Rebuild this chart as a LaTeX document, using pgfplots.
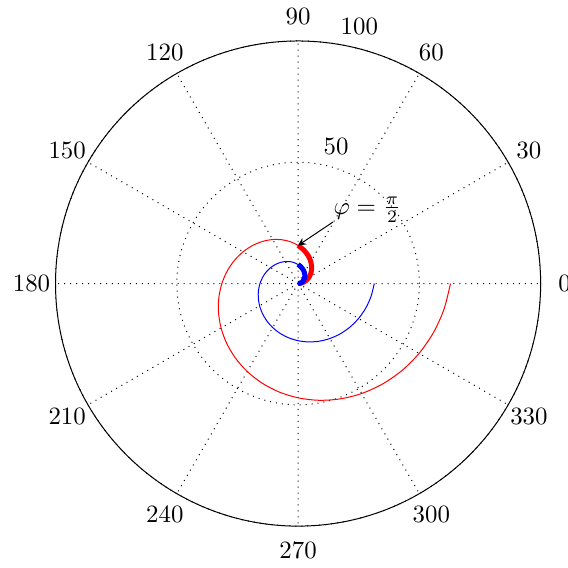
\documentclass[border=0pt]{standalone}
\usepackage{pgfplots}
\pgfplotsset{compat=1.18}
\usepgfplotslibrary{polar}
\pgfplotstableread{
t r
0 0
10 1.745
20 3.491
30 5.236
40 6.981
50 8.727
60 10.472
70 12.217
80 13.963
90 15.708
100 17.453
110 19.199
120 20.944
130 22.689
140 24.435
150 26.180
160 27.925
170 29.671
180 31.416
190 33.161
200 34.907
210 36.652
220 38.397
230 40.143
240 41.888
250 43.633
260 45.379
270 47.124
280 48.869
290 50.615
300 52.360
310 54.105
320 55.851
330 57.596
340 59.341
350 61.087
360 62.832
}\red
\pgfplotstableread{
t r
0 0
10 0.873
20 1.745
30 2.618
40 3.491
50 4.363
60 5.236
70 6.109
80 6.981
90 7.854
100 8.727
110 9.599
120 10.472
130 11.345
140 12.217
150 13.090
160 13.963
170 14.835
180 15.708
190 16.581
200 17.453
210 18.326
220 19.199
230 20.071
240 20.944
250 21.817
260 22.689
270 23.562
280 24.435
290 25.307
300 26.180
310 27.053
320 27.925
330 28.798
340 29.671
350 30.543
360 31.416
}\blue
\pgfplotstableread{
t r
0 0
10 1.745
20 3.491
30 5.236
40 6.981
50 8.727
60 10.472
70 12.217
80 13.963
90 15.708
}\redthick
\pgfplotstableread{
t r
0 0
10 0.873
20 1.745
30 2.618
40 3.491
50 4.363
60 5.236
70 6.109
80 6.981
90 7.854
}\bluethick
\begin{document}
\begin{tikzpicture}
\begin{polaraxis}[ymin=0,ymax=100,ytick={50,100},yticklabels={},
  xtick={0,30,...,330},xticklabels={},
  major tick length=0pt, clip=false,
  y axis line style={draw=none},
  grid=major, major grid style={dotted,black}]
\addplot[red,smooth] table[x=t,y=r] {\red};
\addplot[blue,smooth] table[x=t,y=r] {\blue};
\addplot[red,line width=2pt,smooth] table[x=t,y=r] {\redthick};
\addplot[blue,line width=2pt,smooth] table[x=t,y=r] {\bluethick};
\draw[<-,>=stealth] (axis cs:90,15.708) -- (axis cs:60.4,29.2) node[anchor=south west,inner sep=0pt,yshift=-0.5pt] {$\varphi=\frac{\pi}{2}$};
\pgfplotsinvokeforeach{0,30,60,90,120,150,180,210,240,270,300,330}{
  \node[anchor=center] at (axis cs:#1,109.9) {#1};
}
\node[anchor=south west] at (axis cs:82,50) {50};
\node[anchor=south west] at (axis cs:82,100) {100};
\coordinate (bbA) at (axis cs:136.43,169.62);
\coordinate (bbB) at (axis cs:313.59,161.41);
\end{polaraxis}
\pgfresetboundingbox
\path[use as bounding box] (bbA) rectangle (bbB);
\end{tikzpicture}
\end{document}
